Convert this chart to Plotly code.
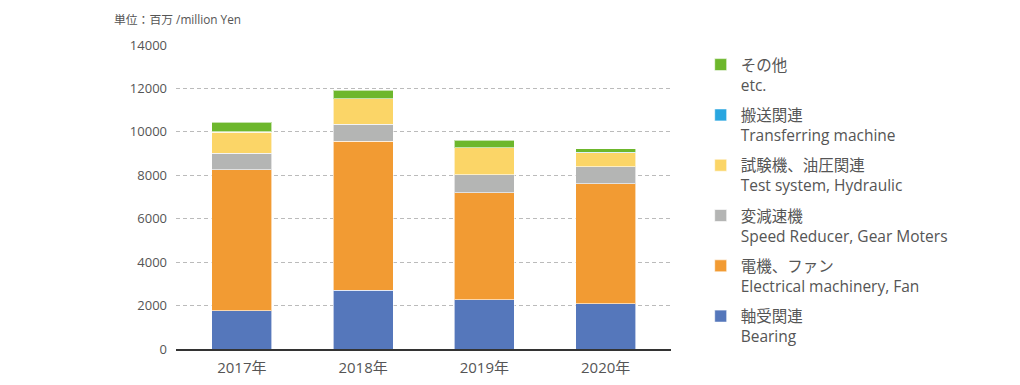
import plotly.graph_objects as go

years = ["2017年", "2018年", "2019年", "2020年"]
bearing = [1760, 2700, 2270, 2090]
electrical = [6485, 6860, 4930, 5510]
speed_reducer = [780, 785, 830, 800]
test_system = [950, 1170, 1230, 645]
transferring = [40, 20, 10, 10]
etc_vals = [420, 380, 340, 160]

names = [
    "軸受関連<br>Bearing",
    "電機、ファン<br>Electrical machinery, Fan",
    "変減速機<br>Speed Reducer, Gear Moters",
    "試験機、油圧関連<br>Test system, Hydraulic",
    "搬送関連<br>Transferring machine",
    "その他<br>etc.",
]
series = [bearing, electrical, speed_reducer, test_system, transferring, etc_vals]
colors = ["#5577BB", "#F29B33", "#B4B5B4", "#FBD567", "#29A6E0", "#6DB72C"]

FONT = "Open Sans, Noto Sans CJK JP"
fig = go.Figure()
for i, (n, v, c) in enumerate(zip(names, series, colors)):
    fig.add_trace(go.Bar(
        x=years, y=v, name=n, legendgroup=f"g{i}", legendrank=100 - i,
        marker=dict(color=c, line=dict(color="rgba(255,255,255,0.6)", width=1)),
    ))

fig.update_layout(
    width=1020, height=385,
    barmode="stack", bargap=0.506,
    margin=dict(l=168, r=357, t=37, b=44, autoexpand=False),
    paper_bgcolor="white", plot_bgcolor="white",
    font=dict(family=FONT, color="#555555", size=13),
    legend=dict(
        x=1.06, xanchor="left", y=0.99, yanchor="top",
        traceorder="grouped", tracegroupgap=7, maxheight=360,
        valign="top", font=dict(size=15.5, color="#555555"),
        itemclick=False,
    ),
    yaxis=dict(
        range=[0, 14000], dtick=2000, tickformat="d", showgrid=True,
        gridcolor="#BBBBBB", griddash="4px,3px", gridwidth=1,
        zeroline=False, showline=False, ticks="", ticklabelstandoff=8,
        tickfont=dict(size=13, color="#555555"),
    ),
    xaxis=dict(
        range=[-0.543, 3.539],
        showline=True, linecolor="#333333", linewidth=1.5,
        ticks="", ticklabelstandoff=4,
        tickfont=dict(size=15, color="#555555"),
    ),
    annotations=[dict(
        text="単位：百万 /million Yen", xref="paper", yref="paper",
        x=-0.13, y=1.052, xanchor="left", yanchor="bottom",
        showarrow=False, font=dict(size=11.8, color="#555555"),
    )],
)

fig.write_html("out.html")
